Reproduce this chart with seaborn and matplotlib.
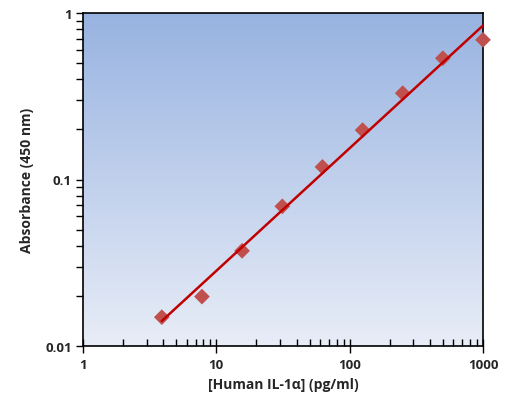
import numpy as np
import pandas as pd
import matplotlib
matplotlib.use("Agg")
import matplotlib.pyplot as plt
import seaborn as sns
from matplotlib.ticker import LogLocator, FixedLocator, NullFormatter

concentration = [3.9, 7.8, 15.6, 31.25, 62.5, 125, 250, 500, 1000]
absorbance = [0.0149, 0.0198, 0.0373, 0.069, 0.119, 0.198, 0.33, 0.535, 0.69]
x_ticks = [1, 10, 100, 1000]
x_tick_labels = ["1", "10", "100", "1000"]
y_ticks = [0.01, 0.1, 1]
y_tick_labels = ["0.01", "0.1", "1"]

sns.set_theme(style="white")
plt.rcParams['font.family'] = ['Open Sans', 'DejaVu Sans']

df = pd.DataFrame({"x": concentration, "y": absorbance})

# power-law fit (linear in log-log)
lx = np.log10(df["x"])
ly = np.log10(df["y"])
slope, intercept = np.polyfit(lx, ly, 1)
fx = np.logspace(lx.min(), lx.max(), 100)
fit = pd.DataFrame({"x": fx, "y": 10 ** (intercept + slope * np.log10(fx))})

fig = plt.figure(figsize=(5.2, 4.14), dpi=100)
ax = fig.add_axes([83 / 520, 1 - 347 / 414, 400 / 520, 333 / 414])
ax.set_xscale("log")
ax.set_yscale("log")
ax.set_xlim(1, 1000)
ax.set_ylim(0.01, 1)

# gradient background
top = np.array([0x98, 0xB3, 0xE1]) / 255
bot = np.array([0xE8, 0xED, 0xF7]) / 255
t = np.linspace(0, 1, 256)[:, None]
grad = (top * (1 - t) + bot * t)[:, None, :]
ax.imshow(grad, extent=[0, 1, 0, 1], transform=ax.transAxes, aspect="auto",
          zorder=0, interpolation="bicubic")

sns.scatterplot(data=df, x="x", y="y", ax=ax, marker="D", s=64,
                color="#C0504D", edgecolor="none", zorder=3, clip_on=False)
sns.lineplot(data=fit, x="x", y="y", ax=ax, color="#C00000", linewidth=1.8,
             zorder=4)

ax.set_xlim(1, 1000)
ax.set_ylim(0.01, 1)

ax.xaxis.set_major_locator(FixedLocator(x_ticks))
ax.set_xticklabels(x_tick_labels)
ax.yaxis.set_major_locator(FixedLocator(y_ticks))
ax.set_yticklabels(y_tick_labels)
ax.xaxis.set_minor_locator(LogLocator(base=10, subs=np.arange(2, 10)))
ax.yaxis.set_minor_locator(LogLocator(base=10, subs=np.arange(2, 10)))
ax.xaxis.set_minor_formatter(NullFormatter())
ax.yaxis.set_minor_formatter(NullFormatter())

ax.tick_params(axis="x", which="major", direction="inout", length=10, width=1,
               color="black", labelsize=9.5, pad=4)
ax.tick_params(axis="x", which="minor", direction="in", length=5, width=1,
               color="black")
ax.tick_params(axis="y", which="major", direction="out", length=5, width=1,
               color="black", labelsize=9.5, pad=3)
ax.tick_params(axis="y", which="minor", direction="out", length=5, width=1,
               color="black")
ax.tick_params(bottom=True, left=True, top=False, right=False, which="both")
for lbl in ax.get_xticklabels() + ax.get_yticklabels():
    lbl.set_fontweight("bold")

for s in ax.spines.values():
    s.set_color("black")
    s.set_linewidth(1.2)

ax.set_xlabel("[Human IL-1α] (pg/ml)", fontsize=10, fontweight="bold", labelpad=4)
ax.set_ylabel("Absorbance (450 nm)", fontsize=10, fontweight="bold", labelpad=8)

fig.savefig("out.png", dpi=100)
